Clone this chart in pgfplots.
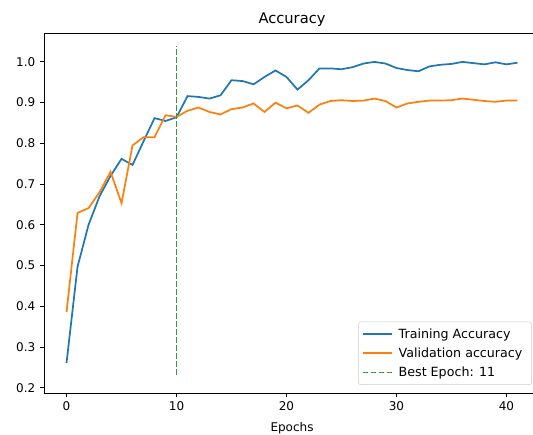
\documentclass[border=0pt]{standalone}
\usepackage{pgfplots}
\pgfplotsset{compat=1.18}
\usepackage{fontspec}
\setmainfont{DejaVu Sans}
\definecolor{mplblue}{HTML}{1F77B4}
\definecolor{mplorange}{HTML}{FF7F0E}
\definecolor{mplgreen}{HTML}{2CA02C}
\begin{document}
\begin{tikzpicture}
\useasboundingbox (0,0) rectangle (399.75pt,326.25pt);
\begin{axis}[
    at={(33pt,31.5pt)}, anchor=south west,
    scale only axis,
    width=372pt, height=270pt,
    xmin=-2.05, xmax=43.05,
    ymin=0.187, ymax=1.071,
    xtick={0,10,20,30,40},
    ytick={0.2,0.3,0.4,0.5,0.6,0.7,0.8,0.9,1.0},
    yticklabel style={/pgf/number format/.cd,fixed,fixed zerofill,precision=1},
    /pgf/number format/assume math mode=true,
    tick pos=left, tick align=outside,
    major tick length=3pt,
    tick style={black, line width=0.7pt},
    axis line style={line width=0.7pt},
    ticklabel style={font=\fontsize{9}{11}\selectfont},
    title={Accuracy},
    title style={font=\fontsize{11}{13}\selectfont, yshift=-4.5pt},
    xlabel={Epochs},
    xlabel style={font=\fontsize{9}{11}\selectfont, yshift=-2pt},
    legend cell align=left,
    legend style={at={(1,0)}, anchor=south east, xshift=-6pt, yshift=6pt,
        font=\fontsize{9.5}{11.5}\selectfont, draw=black!20, rounded corners=2pt,
        fill=white, fill opacity=0.8, text opacity=1,
        row sep=1.5pt, inner sep=3pt,
        nodes={inner xsep=4pt}},
    legend image code/.code={\draw[#1] (0pt,0pt) -- (22pt,0pt);},
]
\addplot[mplblue, line width=1.3pt] coordinates {
(0,0.261)(1,0.497)(2,0.600)(3,0.670)(4,0.720)(5,0.762)(6,0.747)(7,0.805)
(8,0.862)(9,0.855)(10,0.864)(11,0.916)(12,0.914)(13,0.910)(14,0.918)(15,0.955)
(16,0.953)(17,0.945)(18,0.963)(19,0.979)(20,0.963)(21,0.932)(22,0.955)(23,0.984)
(24,0.984)(25,0.982)(26,0.987)(27,0.996)(28,1.000)(29,0.996)(30,0.985)(31,0.980)
(32,0.977)(33,0.989)(34,0.993)(35,0.995)(36,1.000)(37,0.997)(38,0.994)(39,0.999)
(40,0.994)(41,0.998)
};
\addlegendentry{Training Accuracy}
\addplot[mplorange, line width=1.3pt] coordinates {
(0,0.386)(1,0.629)(2,0.641)(3,0.680)(4,0.730)(5,0.653)(6,0.795)(7,0.815)
(8,0.815)(9,0.869)(10,0.865)(11,0.880)(12,0.888)(13,0.877)(14,0.871)(15,0.884)
(16,0.888)(17,0.898)(18,0.877)(19,0.900)(20,0.886)(21,0.893)(22,0.875)(23,0.895)
(24,0.904)(25,0.906)(26,0.904)(27,0.905)(28,0.910)(29,0.904)(30,0.888)(31,0.898)
(32,0.902)(33,0.905)(34,0.905)(35,0.906)(36,0.910)(37,0.907)(38,0.904)(39,0.902)
(40,0.905)(41,0.905)
};
\addlegendentry{Validation accuracy}
\addplot[mplgreen, line width=1.1pt, dash pattern=on 4pt off 2pt] coordinates {(10,0.232)(10,1.040)};
\addlegendentry{Best Epoch: 11}
\end{axis}
\end{tikzpicture}
\end{document}
